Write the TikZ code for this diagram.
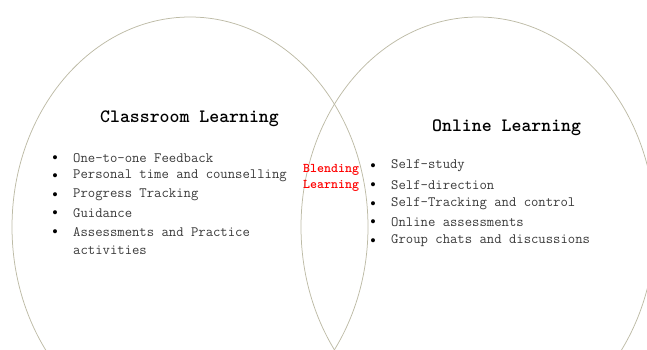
\documentclass[tikz,border=0pt]{standalone}
\usepackage{fontspec}
\begin{document}
\begin{tikzpicture}[x=1pt,y=-1pt,
  ring/.style={draw=ringcol,line width=0.75pt},
  title/.style={anchor=west,inner sep=0pt,font=\fontsize{18.9}{20}\selectfont\ttfamily\bfseries},
  item/.style={anchor=west,inner sep=0pt,text=itemcol,font=\fontsize{14.3}{16}\selectfont\ttfamily},
  bul/.style={anchor=base,inner sep=0pt,font=\fontsize{18}{18}\selectfont,text height=0.6em,text depth=0pt,yshift=-4pt},
  blend/.style={anchor=west,inner sep=0pt,text=red,font=\fontsize{13.3}{14}\selectfont\ttfamily\bfseries}]
\definecolor{ringcol}{HTML}{BDBBA6}
\definecolor{itemcol}{HTML}{3A3A3A}
\useasboundingbox (0,0) rectangle (647,349);
\begin{scope}
\clip (0,0) rectangle (647,349);
\draw[ring] (190,227) ellipse [x radius=178, y radius=210];
\draw[ring] (478,227) ellipse [x radius=177, y radius=210];
\end{scope}
\node[title] (t1) at (100,119) {Classroom Learning};
\node[title] (t2) at (432,128) {Online Learning};
% left list
\node[bul] (lb1) at (55,158) {\textbullet};
\node[bul] (lb2) at (55,176) {\textbullet};
\node[bul] (lb3) at (55,195) {\textbullet};
\node[bul] (lb4) at (55,213) {\textbullet};
\node[bul] (lb5) at (55,232) {\textbullet};
\node[item] (l1) at (73,158) {One-to-one Feedback};
\node[item] (l2) at (73,176) {Personal time and counselling};
\node[item] (l3) at (73,195) {Progress Tracking};
\node[item] (l4) at (73,213) {Guidance};
\node[item] (l5) at (73,232) {Assessments and Practice};
\node[item] (l6) at (73,250) {activities};
% blend
\node[blend] (b1) at (303,170) {Blending};
\node[blend] (b2) at (303,186) {Learning};
% right list
\node[bul] (rb1) at (373,166) {\textbullet};
\node[bul] (rb2) at (373,185) {\textbullet};
\node[bul] (rb3) at (373,204) {\textbullet};
\node[bul] (rb4) at (373,222) {\textbullet};
\node[bul] (rb5) at (373,241) {\textbullet};
\node[item] (r1) at (391,166) {Self-study};
\node[item] (r2) at (391,185) {Self-direction};
\node[item] (r3) at (391,204) {Self-Tracking and control};
\node[item] (r4) at (391,222) {Online assessments};
\node[item] (r5) at (391,241) {Group chats and discussions};
\end{tikzpicture}
\end{document}
